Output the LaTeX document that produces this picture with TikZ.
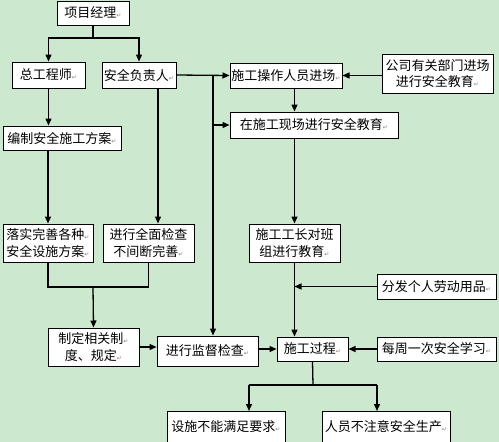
\documentclass[tikz,border=0pt]{standalone}
\usepackage{fontspec}
\newfontfamily\cjk{Noto Sans CJK SC}
\newfontfamily\markfont{DejaVu Sans}
\usetikzlibrary{arrows.meta}
\definecolor{bggreen}{RGB}{204,232,206}
\newcommand{\retmark}{{\markfont\fontsize{6}{6}\selectfont\textcolor{gray}{↵}}}
\tikzset{
	cbox/.style={draw, line width=1pt, fill=white, inner sep=0pt, align=center, font=\cjk\fontsize{13}{16.5}\selectfont},
	ln/.style={line width=1.3pt},
	arr/.style={line width=1.3pt, -{Triangle[length=7pt,width=6pt]}}
}

\begin{document}
\begin{tikzpicture}[x=1pt,y=-1pt]		%safety flow
	\fill[bggreen] (0,0) rectangle (499,442);
	\useasboundingbox (0,0) rectangle (499,442);
	% left column
	\node[cbox, minimum width=72pt, minimum height=24pt] (manager) at (93,13) {项目经理\retmark};
	\node[cbox, minimum width=73pt, minimum height=26pt] (chief) at (48.5,75) {总工程师\retmark};
	\node[cbox, minimum width=74pt, minimum height=26pt] (safety) at (139,75) {安全负责人\retmark};
	\node[cbox, minimum width=118pt, minimum height=24pt] (plan) at (62,138) {编制安全施工方案\retmark};
	\node[cbox, minimum width=90pt, minimum height=38pt] (facility) at (48,243) {落实完善各种\retmark\\安全设施方案\retmark};
	\node[cbox, minimum width=91pt, minimum height=38pt] (inspect) at (148.5,243) {进行全面检查\\不间断完善\retmark};
	\node[cbox, minimum width=91pt, minimum height=38pt] (rules) at (93.5,347) {制定相关制\retmark\\度、规定\retmark};
	\node[cbox, minimum width=101pt, minimum height=30pt] (supervise) at (207.5,351) {进行监督检查\retmark};
	% right column
	\node[cbox, minimum width=112pt, minimum height=25pt] (enter) at (286,75.5) {施工操作人员进场\retmark};
	\node[cbox, minimum width=111pt, minimum height=39pt] (company) at (437.5,73.5) {公司有关部门进场\\进行安全教育\retmark};
	\node[cbox, minimum width=168pt, minimum height=26pt] (site) at (314,125) {在施工现场进行安全教育\retmark};
	\node[cbox, minimum width=91pt, minimum height=38pt] (foreman) at (294.5,243) {施工工长对班\\组进行教育\retmark};
	\node[cbox, minimum width=119pt, minimum height=25pt] (gear) at (436.5,286.5) {分发个人劳动用品\retmark};
	\node[cbox, minimum width=71pt, minimum height=24pt] (process) at (312.5,349) {施工过程\retmark};
	\node[cbox, minimum width=119pt, minimum height=24pt] (weekly) at (436.5,349) {每周一次安全学习\retmark};
	\node[cbox, minimum width=118pt, minimum height=31pt] (nofac) at (226,427) {设施不能满足要求\retmark};
	\node[cbox, minimum width=128pt, minimum height=31pt] (noatt) at (386,427) {人员不注意安全生产\retmark};

	% top split
	\coordinate (split1) at (93,38);
	\draw[ln] (manager.south) -- (split1);
	\draw[arr] (split1) -| (chief.north);
	\draw[arr] (split1) -| (safety.north);
	\draw[arr] (chief.south) -- (chief.south |- plan.north);
	\draw[arr] (plan.south -| facility.north) -- (facility.north);
	\coordinate (s2) at (158,88);
	\draw[arr] (s2) -- (s2 |- inspect.north);
	% trunk from safety
	\coordinate (trunk) at (213,75);
	\draw[arr] (safety.east) -- (enter.west);
	\draw[arr] (trunk) -- (trunk |- supervise.north);
	\draw[arr] (trunk |- site.west) -- (site.west);
	\draw[arr] (company.west |- enter.east) -- (enter.east);
	% education chain
	\draw[arr] (enter.south -| foreman.north) -- (site.north -| foreman.north);
	\draw[arr] (site.south -| foreman.north) -- (foreman.north);
	\draw[arr] (foreman.south) -- (foreman.south |- process.north);
	\draw[arr] (gear.west) -- (gear.west -| foreman.south);
	\draw[arr] (weekly.west) -- (process.east);
	\draw[arr] (supervise.east |- process.west) -- (process.west);
	\draw[arr] (rules.east) -- (supervise.west |- rules.east);
	% join to rules
	\coordinate (join) at (93,287);
	\draw[ln] (facility.south) |- (join);
	\draw[ln] (inspect.south) |- (join);
	\draw[arr] (join) -- (rules.north);
	% bottom split
	\coordinate (split2) at (313,385);
	\coordinate (bl) at (249,385);
	\coordinate (br) at (377,385);
	\draw[ln] (process.south) -- (split2);
	\draw[ln] (bl) -- (br);
	\draw[arr] (bl) -- (bl |- nofac.north);
	\draw[arr] (br) -- (br |- noatt.north);
\end{tikzpicture}
\end{document}
